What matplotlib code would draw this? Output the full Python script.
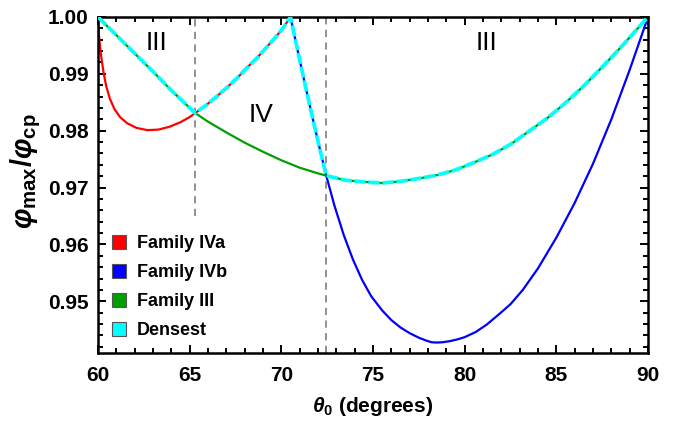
import numpy as np
import matplotlib
matplotlib.use("Agg")
import matplotlib.pyplot as plt
from matplotlib.patches import Patch
from matplotlib.ticker import MultipleLocator

# ==============================
# Data
# ==============================
# Family IVa (red)
theta_iva = [60.0, 60.05, 60.12, 60.2, 60.3, 60.45, 60.65, 60.9, 61.2, 61.6, 62.1, 62.7,
             63.3, 63.9, 64.5, 65.0, 65.3, 65.9, 66.5, 67.1, 67.6, 68.1, 68.7, 69.2,
             69.7, 70.1, 70.5]
phi_iva = [1.0, 0.9968, 0.9945, 0.9925, 0.9903, 0.9878, 0.9856, 0.9838, 0.9824, 0.9813,
           0.9805, 0.9801, 0.9802, 0.9807, 0.9815, 0.9824, 0.9831, 0.9845, 0.9861,
           0.9878, 0.9893, 0.9910, 0.9929, 0.9947, 0.9965, 0.9981, 1.0]

# Family IVb (blue)
theta_ivb = [70.5, 70.8, 71.1, 71.4, 71.7, 72.0, 72.45, 72.9, 73.4, 73.9, 74.4, 74.9,
             75.5, 76.0, 76.5, 77.0, 77.5, 77.9, 78.2, 78.45, 78.8, 79.2, 79.6, 80.0,
             80.6, 81.2, 81.9, 82.5, 83.17, 84.0, 85.0, 86.0, 87.0, 88.0, 89.0, 90.0]
phi_ivb = [1.0, 0.99545, 0.99098, 0.9866, 0.98232, 0.97815, 0.9721, 0.9668, 0.9617,
           0.9574, 0.9538, 0.9509, 0.9484, 0.9467, 0.9454, 0.9444, 0.9436, 0.9431,
           0.9428, 0.94275, 0.9428, 0.9430, 0.9433, 0.9437, 0.9446, 0.9459, 0.9478,
           0.9495, 0.9520, 0.9558, 0.9612, 0.9673, 0.9742, 0.9820, 0.9907, 1.0]

# Family III (green)
theta_iii = [60.0, 61.0, 62.0, 63.0, 64.0, 65.3, 66.0, 67.0, 68.0, 69.0, 70.0, 71.0,
             72.0, 72.45, 73.5, 74.5, 75.5, 76.5, 77.5, 78.5, 79.5, 80.5, 81.5, 82.5,
             83.5, 84.5, 85.5, 86.5, 87.5, 88.5, 89.3, 90.0]
phi_iii = [1.0, 0.9968, 0.9936, 0.9904, 0.9871, 0.9831, 0.9816, 0.9797, 0.9779, 0.9763,
           0.9748, 0.9735, 0.9725, 0.9721, 0.9713, 0.9710, 0.9708, 0.9711, 0.9716,
           0.9722, 0.9731, 0.9744, 0.9758, 0.9776, 0.9799, 0.9822, 0.9849, 0.9879,
           0.9912, 0.9946, 0.9975, 1.0]

# phase boundaries (dashed lines) and peak of family IV
theta_b1 = 65.3
theta_b2 = 72.45
theta_peak = 70.5

region_labels = ["III", "IV", "III"]
region_x = [63.2, 68.9, 81.2]
region_y = [0.9955, 0.9828, 0.9955]

# ==============================
# Densest = upper envelope, pieced from the families
# ==============================
t3, p3 = np.array(theta_iii), np.array(phi_iii)
ta, pa = np.array(theta_iva), np.array(phi_iva)
tb, pb = np.array(theta_ivb), np.array(phi_ivb)
m1 = t3 <= theta_b1
m2 = (ta >= theta_b1) & (ta <= theta_peak)
m3 = (tb >= theta_peak) & (tb <= theta_b2)
m4 = t3 >= theta_b2
theta_dense = np.concatenate([t3[m1], ta[m2], tb[m3], t3[m4]])
phi_dense = np.concatenate([p3[m1], pa[m2], pb[m3], p3[m4]])

# ==============================
# Style
# ==============================
plt.rcParams["font.family"] = ["Liberation Sans", "DejaVu Sans"]
plt.rcParams["mathtext.fontset"] = "custom"
plt.rcParams["mathtext.rm"] = "Liberation Sans:bold"
plt.rcParams["mathtext.it"] = "Liberation Sans:italic:bold"
plt.rcParams["mathtext.bf"] = "Liberation Sans:bold"

RED = "#ff0000"
BLUE = "#0000ff"
GREEN = "#00a000"
CYAN = "#00ffff"

fig = plt.figure(figsize=(6.81, 4.22), dpi=100)
ax = fig.add_axes([98 / 681, 1 - 352.5 / 422, (648 - 98) / 681, (352.5 - 17) / 422])

ax.axvline(theta_b1, ymin=(0.965 - 0.941) / (1.0 - 0.941), ymax=1, color="#888888",
           lw=1.3, dashes=(4, 3), zorder=1)
ax.axvline(theta_b2, color="#888888", lw=1.3, dashes=(4, 3), zorder=1)

ax.plot(theta_iva, phi_iva, color=RED, lw=1.6, zorder=2)
ax.plot(theta_ivb, phi_ivb, color=BLUE, lw=1.6, zorder=2)
ax.plot(theta_iii, phi_iii, color=GREEN, lw=1.6, zorder=2)
ax.plot(theta_dense, phi_dense, color=CYAN, lw=2.7, linestyle=(0, (3.0, 0.75)), zorder=3)

for lab, x, y in zip(region_labels, region_x, region_y):
    ax.text(x, y, lab, fontsize=19, ha="center", va="center")

ax.set_xlim(60, 90)
ax.set_ylim(0.941, 1.0)
ax.xaxis.set_major_locator(MultipleLocator(5))
ax.xaxis.set_minor_locator(MultipleLocator(1))
ax.yaxis.set_major_locator(MultipleLocator(0.01))
ax.yaxis.set_minor_locator(MultipleLocator(0.002))
ax.yaxis.set_major_formatter(plt.FormatStrFormatter("%.2f"))
ax.tick_params(which="both", direction="in", top=True, right=True, width=1.4)
ax.tick_params(which="major", length=6, labelsize=15)
ax.tick_params(axis="x", which="major", pad=10)
ax.tick_params(axis="y", which="major", pad=7)
ax.tick_params(which="minor", length=3.5)
for lab in ax.get_xticklabels() + ax.get_yticklabels():
    lab.set_fontweight("bold")
for sp in ax.spines.values():
    sp.set_linewidth(1.8)

ax.set_xlabel(r"$\theta_0$ (degrees)", fontsize=15, fontweight="bold", labelpad=7)
ax.set_ylabel(r"$\varphi_\mathrm{max}/\varphi_\mathrm{cp}$", fontsize=21)
ax.yaxis.set_label_coords(-0.1, 0.54)

handles = [Patch(facecolor=c, edgecolor="#555555", lw=0.8) for c in (RED, BLUE, GREEN, CYAN)]
names = ["Family IVa", "Family IVb", "Family III", "Densest"]
ax.legend(handles, names, loc="upper left", bbox_to_anchor=(112 / 681, 1 - 235 / 422),
          bbox_transform=fig.transFigure, frameon=False, borderpad=0, borderaxespad=0,
          handlelength=0.78, handleheight=0.78, handletextpad=0.6, labelspacing=0.66,
          prop={"weight": "bold", "size": 13})

fig.savefig("out.png", dpi=100)
